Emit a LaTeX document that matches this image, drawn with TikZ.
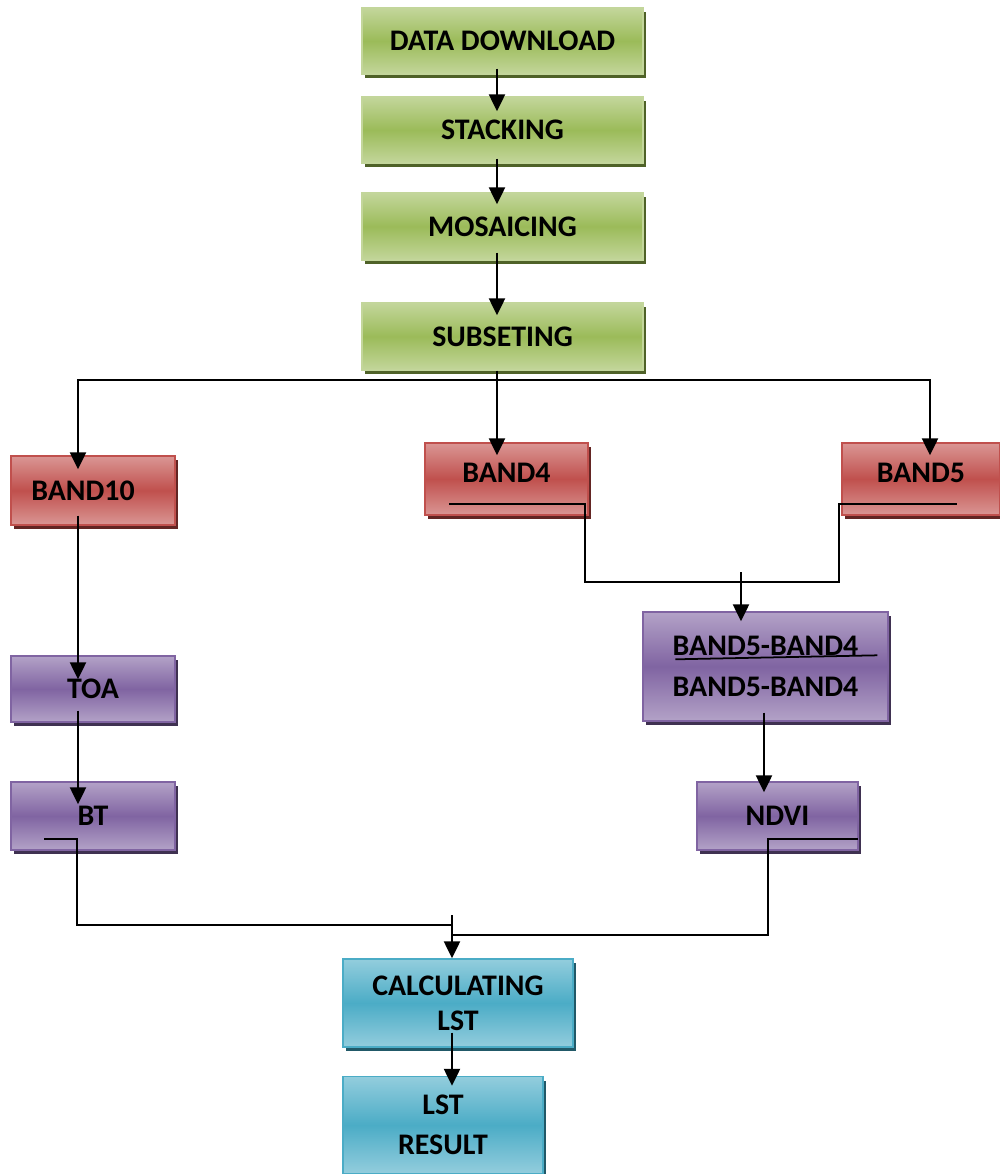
\documentclass[tikz,border=0pt]{standalone}
\usepackage{fontspec}
\setmainfont{Carlito}
\usetikzlibrary{arrows.meta,shadows}

\definecolor{grnlight}{HTML}{C3D69B}
\definecolor{grnmid}{HTML}{9BBB59}
\definecolor{grnshadow}{HTML}{4F6228}
\definecolor{redlight}{HTML}{DA9694}
\definecolor{redmid}{HTML}{C0504D}
\definecolor{redshadow}{HTML}{632523}
\definecolor{purlight}{HTML}{B3A2C7}
\definecolor{purmid}{HTML}{8064A2}
\definecolor{purshadow}{HTML}{3F3151}
\definecolor{cyanlight}{HTML}{93CDDD}
\definecolor{cyanmid}{HTML}{4BACC6}
\definecolor{cyanshadow}{HTML}{215968}

\tikzset{
  box/.style={line width=0.8pt, align=center, inner sep=0pt,
    font=\fontsize{17}{23}\selectfont\bfseries},
  greenbox/.style={box, draw=grnlight, top color=grnlight, bottom color=grnlight, middle color=grnmid,
    drop shadow={shadow xshift=0.06cm, shadow yshift=-0.08cm, fill=grnshadow, opacity=1}},
  redbox/.style={box, draw=redmid, top color=redlight, bottom color=redlight, middle color=redmid,
    drop shadow={shadow xshift=0.06cm, shadow yshift=-0.08cm, fill=redshadow, opacity=1}},
  purbox/.style={box, draw=purmid, top color=purlight, bottom color=purlight, middle color=purmid,
    drop shadow={shadow xshift=0.06cm, shadow yshift=-0.08cm, fill=purshadow, opacity=1}},
  cyanbox/.style={box, draw=cyanmid, top color=cyanlight, bottom color=cyanlight, middle color=cyanmid,
    drop shadow={shadow xshift=0.06cm, shadow yshift=-0.08cm, fill=cyanshadow, opacity=1}},
  arr/.style={-{Triangle[width=0.32cm,length=0.34cm]}, line width=1.3pt},
  link/.style={line width=1pt}
}

\begin{document}
\begin{tikzpicture}[x=0.02cm, y=-0.02cm]
  \useasboundingbox (0,0) rectangle (1000,1174);

  % preprocessing chain
  \node[greenbox, minimum width=5.62cm, minimum height=1.32cm] (dl) at (502.5,41) {DATA DOWNLOAD};
  \node[greenbox, minimum width=5.62cm, minimum height=1.32cm] (stack) at (502.5,130) {STACKING};
  \node[greenbox, minimum width=5.62cm, minimum height=1.34cm] (mosaic) at (502.5,226.5) {MOSAICING};
  \node[greenbox, minimum width=5.62cm, minimum height=1.34cm] (subset) at (502.5,336.5) {SUBSETING};

  % bands
  \node[redbox, minimum width=3.28cm, minimum height=1.38cm] (band10) at (93,490.5) {BAND10\hspace{0.4cm}};
  \node[redbox, minimum width=3.26cm, minimum height=1.44cm] (band4) at (506.5,479) {\raisebox{-0.07cm}[0pt][0pt]{BAND4}};
  \node[redbox, minimum width=3.16cm, minimum height=1.44cm] (band5) at (921,479) {\raisebox{-0.07cm}[0pt][0pt]{BAND5}};

  % indices
  \node[purbox, minimum width=4.9cm, minimum height=2.18cm] (ratio) at (765.5,666.5) {BAND5-BAND4\\BAND5-BAND4};
  \node[purbox, minimum width=3.28cm, minimum height=1.32cm] (toa) at (93,689) {TOA};
  \node[purbox, minimum width=3.28cm, minimum height=1.36cm] (bt) at (93,816) {BT};
  \node[purbox, minimum width=3.22cm, minimum height=1.36cm] (ndvi) at (777.5,816) {NDVI};

  % result
  \node[cyanbox, minimum width=4.6cm, minimum height=1.76cm, font=\fontsize{17}{20}\selectfont\bfseries] (calc) at (458,1003) {CALCULATING\\LST};
  \node[cyanbox, minimum width=4cm, minimum height=1.94cm] (result) at (443,1125) {LST\\RESULT};

  \coordinate (spine) at (497,0);
  \coordinate (split) at (497,380);
  \coordinate (merge) at (741,582);
  \coordinate (join) at (452,925);

  \draw[arr] ([yshift=0.12cm]dl.south -| spine) -- ([yshift=-0.3cm]stack.north -| spine);
  \draw[arr] ([yshift=0.1cm]stack.south -| spine) -- ([yshift=-0.24cm]mosaic.north -| spine);
  \draw[arr] ([yshift=0.16cm]mosaic.south -| spine) -- ([yshift=-0.26cm]subset.north -| spine);
  \draw[arr] (subset.south -| spine) -- ([yshift=-0.26cm]band4.north -| spine);
  \draw[arr] (split) -| ([shift={(-15,14)}]band10.north);
  \draw[arr] (split) -| ([shift={(9,13)}]band5.north);

  \draw[arr] ([shift={(-15,-10)}]band10.south) -- ([shift={(-15,24)}]toa.north);
  \draw[arr] ([shift={(-15,-12)}]toa.south) -- ([shift={(-15,23)}]bt.north);

  \draw[link] ([shift={(25,-12)}]band4.south west) -- ++(136,0) |- (merge)
    -| ([shift={(-2,-12)}]band5.south west) -- ++(118,0);
  \draw[arr] ([shift={(0,-10)}]merge) -- ([shift={(0,10)}]merge |- ratio.north);
  \draw[link] ([shift={(33,48)}]ratio.north west) -- ([shift={(235,44)}]ratio.north west);
  \draw[arr] ([shift={(-1.5,-9)}]ratio.south) -- ([shift={(-1.5,11)}]ratio.south |- ndvi.north);

  \draw[link] ([shift={(34,-12)}]bt.south west) -- ++(33,0) |- (join);
  \draw[link] ([shift={(-1,-12)}]ndvi.south east) -- ++(-90,0) |- ([shift={(0,10)}]join);
  \draw[arr] ([shift={(0,-10)}]join) -- (join |- calc.north);
  \draw[arr] ([shift={(0,-15)}]join |- calc.south) -- ([shift={(0,10)}]join |- result.north);
\end{tikzpicture}
\end{document}
